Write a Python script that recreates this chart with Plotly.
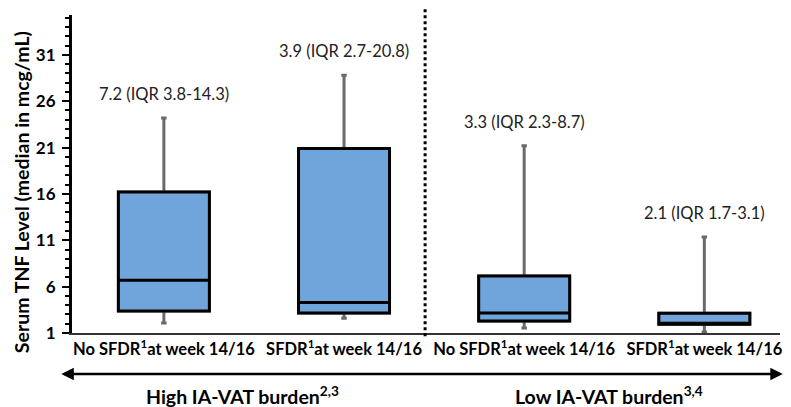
import plotly.graph_objects as go

# Data
categories = ["No SFDR<sup>1</sup>at week 14/16", "SFDR<sup>1</sup>at week 14/16",
              "No SFDR<sup>1</sup>at week 14/16", "SFDR<sup>1</sup>at week 14/16"]
positions = [0, 1, 2, 3]
q1 = [3.37, 3.16, 2.30, 1.95]
median = [6.7, 4.3, 3.16, 2.05]
q3 = [16.2, 20.9, 7.15, 3.12]
lower_fence = [2.08, 2.6, 1.55, 1.1]
upper_fence = [24.2, 28.8, 21.2, 11.35]
box_labels = ["7.2 (IQR 3.8-14.3)", "3.9 (IQR 2.7-20.8)",
              "3.3 (IQR 2.3-8.7)", "2.1 (IQR 1.7-3.1)"]
group_labels = ["High IA-VAT burden<sup>2,3</sup>", "Low IA-VAT burden<sup>3,4</sup>"]
y_ticks = [1, 6, 11, 16, 21, 26, 31]
y_title = "Serum TNF Level (median in mcg/mL)"

FONT = "Lato, 'Open Sans', sans-serif"
BLUE = "#6fa5da"
GRAY = "#6a6a6a"

fig = go.Figure()

# whiskers (gray)
fig.add_trace(go.Box(
    x=positions, q1=q1, median=median, q3=q3,
    lowerfence=lower_fence, upperfence=upper_fence,
    width=0.505, whiskerwidth=0.06,
    fillcolor=BLUE, line=dict(color=GRAY, width=3),
    boxpoints=False, hoverinfo="skip", showlegend=False,
))
# boxes (black outline)
fig.add_trace(go.Box(
    x=positions, q1=q1, median=median, q3=q3,
    lowerfence=q1, upperfence=q3,
    width=0.505, whiskerwidth=0,
    fillcolor=BLUE, line=dict(color="black", width=3),
    boxpoints=False, hoverinfo="skip", showlegend=False,
))

# value labels above whiskers
for xi, up, lab in zip(positions, upper_fence, box_labels):
    fig.add_annotation(x=xi, y=up, text=lab, showarrow=False, yshift=12,
                       xanchor="center", yanchor="bottom",
                       font=dict(family=FONT, size=16.5, color="#222"))

# group labels
for xp, lab in zip([0.241, 0.758], group_labels):
    fig.add_annotation(x=xp, y=-0.195, xref="paper", yref="paper", text=lab,
                       showarrow=False, xanchor="center", yanchor="middle",
                       font=dict(family=FONT, size=19.5, color="black", weight="bold"))

# y-axis title
fig.add_annotation(x=-0.072, y=0.443, xref="paper", yref="paper", text=y_title,
                   textangle=-90, showarrow=False, xanchor="center", yanchor="middle",
                   font=dict(family=FONT, size=19.5, color="black", weight="bold"))

# double-headed arrow
fig.add_annotation(x=1.004, y=-0.129, xref="paper", yref="paper",
                   ax=-723, ay=0, text="", showarrow=True,
                   arrowhead=2, startarrowhead=2, arrowside="end+start",
                   arrowsize=1, arrowwidth=2.5, arrowcolor="black")

# dotted separator
fig.add_shape(type="line", x0=1.45, x1=1.45, xref="x", y0=-0.01, y1=1.025, yref="paper",
              line=dict(color="black", width=3, dash="dot"))

fig.update_layout(
    width=791, height=407,
    margin=dict(l=72, r=11, t=15, b=74, autoexpand=False),
    paper_bgcolor="white", plot_bgcolor="white",
    boxmode="overlay",
    font=dict(family=FONT, color="black"),
    xaxis=dict(
        range=[-0.51, 3.42], tickmode="array", tickvals=positions, ticktext=categories,
        tickfont=dict(family=FONT, size=16.5, color="black", weight="bold"),
        showline=True, linecolor="#333", linewidth=2, ticks="", showgrid=False,
        zeroline=False, fixedrange=True, automargin=False,
    ),
    yaxis=dict(
        range=[1, 35.3], tickmode="array", tickvals=y_ticks,
        tickfont=dict(family=FONT, size=17, color="black", weight="bold"),
        ticks="outside", ticklen=7, tickwidth=2, tickcolor="black",
        ticklabelstandoff=3, automargin=False,
        minor=dict(dtick=1, tick0=1, ticks="outside", ticklen=4, tickwidth=2, tickcolor="black"),
        showline=True, linecolor="black", linewidth=3, showgrid=False, zeroline=False,
    ),
)

fig.write_html("out.html", config={"displayModeBar": False},
               post_script="document.body.style.margin='0';document.body.style.overflow='hidden';")
